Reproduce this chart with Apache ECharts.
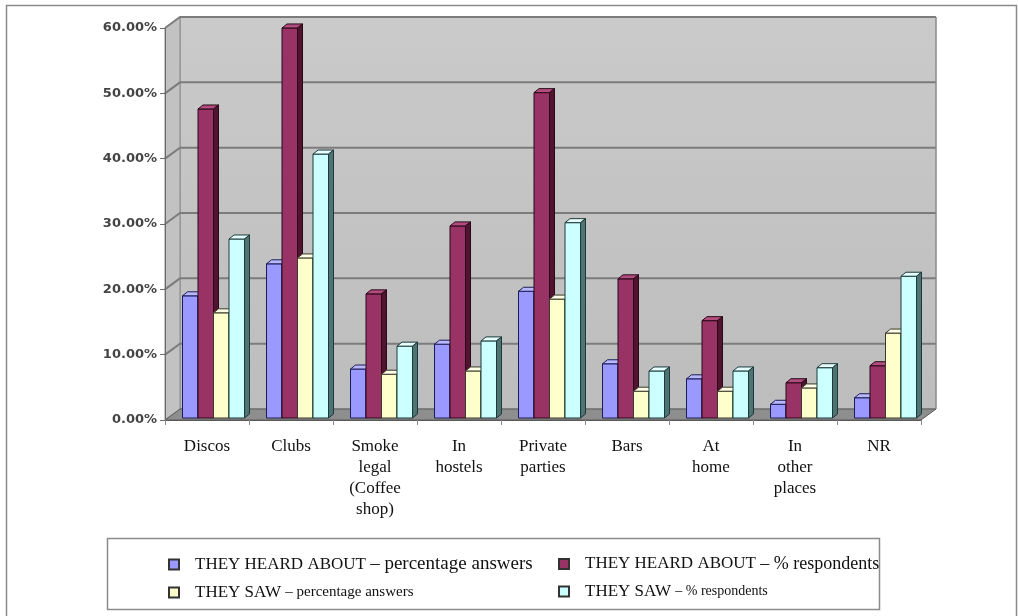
<!DOCTYPE html>
<html>
<head>
<meta charset="utf-8">
<script src="https://cdn.jsdelivr.net/npm/echarts@6/dist/echarts.min.js"></script>
<style>
html, body { margin: 0; padding: 0; background: #fff; }
#chart { width: 1018px; height: 616px; }
</style>
</head>
<body>
<div id="chart"></div>
<script>
// Places where respondents heard about / saw drug use (values in %)
const categories = ['Discos', 'Clubs', 'Smoke\nlegal\n(Coffee\nshop)', 'In\nhostels', 'Private\nparties', 'Bars', 'At\nhome', 'In\nother\nplaces', 'NR'];
const heardAnswers     = [18.7, 23.6, 7.5, 11.3, 19.4, 8.3, 6.0, 2.1, 3.1];
const heardRespondents = [47.3, 59.7, 19.0, 29.4, 49.8, 21.3, 14.9, 5.4, 8.0];
const sawAnswers       = [16.1, 24.5, 6.7, 7.2, 18.2, 4.1, 4.1, 4.6, 13.0];
const sawRespondents   = [27.4, 40.4, 11.0, 11.8, 29.9, 7.2, 7.2, 7.7, 21.7];
const seriesNames = [
  'THEY HEARD ABOUT – percentage answers',
  'THEY HEARD ABOUT – % respondents',
  'THEY SAW – percentage answers',
  'THEY SAW – % respondents'
];
const yTicks = [0, 10, 20, 30, 40, 50, 60];

const palettes = [
  { front: '#9999ff', top: '#b8b8ff', side: '#6666b8', line: '#1c1c55' },
  { front: '#993366', top: '#b34d80', side: '#4f1430', line: '#2a0816' },
  { front: '#ffffcc', top: '#ffffe8', side: '#b5b590', line: '#3a3a2a' },
  { front: '#ccffff', top: '#e8ffff', side: '#4f7373', line: '#1c3a3a' }
];
const seriesData = [heardAnswers, heardRespondents, sawAnswers, sawRespondents];

// depth of the chart box (walls) and of each column
const WALL_DX = 15, WALL_DY = 11;
const BAR_DX = 5, BAR_DY = 4;

function renderWalls(params, api) {
  const cs = params.coordSys;
  const L = cs.x, R = cs.x + cs.width, T = cs.y, B = cs.y + cs.height;
  const children = [];
  children.push({
    type: 'rect',
    shape: { x: L + WALL_DX, y: T - WALL_DY, width: cs.width, height: cs.height },
    style: {
      fill: new echarts.graphic.LinearGradient(0, 0, 0, 1, [
        { offset: 0, color: '#cacaca' }, { offset: 1, color: '#bdbdbd' }
      ]),
      stroke: '#8a8a8a', lineWidth: 1
    }
  });
  children.push({
    type: 'polygon',
    shape: { points: [[L, T], [L + WALL_DX, T - WALL_DY], [L + WALL_DX, B - WALL_DY], [L, B]] },
    style: { fill: '#c2c2c2', stroke: '#8a8a8a', lineWidth: 1 }
  });
  children.push({
    type: 'polygon',
    shape: { points: [[L, B], [L + WALL_DX, B - WALL_DY], [R + WALL_DX, B - WALL_DY], [R, B]] },
    style: { fill: '#8e8e8e', stroke: '#5a5a5a', lineWidth: 1 }
  });
  yTicks.forEach(function (t) {
    if (t === 0) return;
    const y = api.coord([0, t])[1];
    children.push({
      type: 'polyline',
      shape: { points: [[L, y], [L + WALL_DX, y - WALL_DY], [R + WALL_DX, y - WALL_DY]] },
      style: { stroke: '#7c7c7c', lineWidth: 2, fill: null }
    });
  });
  children.push({
    type: 'line',
    shape: { x1: R + WALL_DX, y1: T - WALL_DY, x2: R + WALL_DX, y2: B - WALL_DY },
    style: { stroke: '#8a8a8a', lineWidth: 1 }
  });
  return { type: 'group', children: children };
}

function barRenderer(k) {
  const p = palettes[k];
  return function (params, api) {
    const ci = api.value(0), v = api.value(1);
    const base = api.coord([ci, 0]);
    const top = api.coord([ci, v]);
    const bw = api.size([1, 0])[0];
    const w = bw * 15.5 / 84;
    const x0 = base[0] - bw * 24.5 / 84 + k * w;
    const yb = base[1] - 2, yt = top[1] - 2;
    return {
      type: 'group',
      children: [
        { type: 'rect', shape: { x: x0, y: yt, width: w, height: yb - yt },
          style: { fill: p.front, stroke: p.line, lineWidth: 1 } },
        { type: 'polygon', shape: { points: [[x0, yt], [x0 + BAR_DX, yt - BAR_DY], [x0 + w + BAR_DX, yt - BAR_DY], [x0 + w, yt]] },
          style: { fill: p.top, stroke: p.line, lineWidth: 1 } },
        { type: 'polygon', shape: { points: [[x0 + w, yt], [x0 + w + BAR_DX, yt - BAR_DY], [x0 + w + BAR_DX, yb - BAR_DY], [x0 + w, yb]] },
          style: { fill: p.side, stroke: p.line, lineWidth: 1 } }
      ]
    };
  };
}

const serif = 'Liberation Serif';
const legendRich = {
  caps: { fontFamily: serif, fontSize: 17, color: '#111', lineHeight: 20 },
  low19: { fontFamily: serif, fontSize: 19, color: '#111', lineHeight: 20 },
  low18: { fontFamily: serif, fontSize: 18, color: '#111', lineHeight: 20 },
  low15: { fontFamily: serif, fontSize: 15, color: '#111', lineHeight: 20 },
  low14: { fontFamily: serif, fontSize: 14, color: '#111', lineHeight: 20 }
};
const lowerStyle = ['low19', 'low18', 'low15', 'low14'];
function legendLabel(name) {
  const parts = name.split(' – ');
  const idx = seriesNames.indexOf(name);
  return '{caps|' + parts[0] + ' }{' + lowerStyle[idx] + '|– ' + parts[1] + '}';
}
function legendItems(indices) {
  return indices.map(function (i) {
    return { name: seriesNames[i], icon: 'rect',
      itemStyle: { color: palettes[i].front, borderColor: '#333', borderWidth: 2 } };
  });
}

const chart = echarts.init(document.getElementById('chart'), null, { renderer: 'canvas' });

const series = [{
  type: 'custom',
  name: 'walls',
  silent: true,
  z: 1,
  renderItem: renderWalls,
  data: [[0, 0]],
  encode: { x: 0, y: 1 }
}];
seriesData.forEach(function (arr, k) {
  series.push({
    type: 'custom',
    name: seriesNames[k],
    z: 2,
    itemStyle: { color: palettes[k].front },
    renderItem: barRenderer(k),
    encode: { x: 0, y: 1 },
    data: arr.map(function (v, i) { return [i, v]; })
  });
});

chart.setOption({
  animation: false,
  backgroundColor: '#fff',
  grid: { left: 165, right: 97, top: 28, bottom: 196 },
  xAxis: {
    type: 'category',
    data: categories,
    z: 3,
    axisLine: { show: true, lineStyle: { color: '#5a5a5a', width: 1 } },
    axisTick: { show: true, length: 5, lineStyle: { color: '#888' } },
    axisLabel: {
      interval: 0, margin: 16,
      fontFamily: serif, fontSize: 17, lineHeight: 21, color: '#111'
    },
    splitLine: { show: false }
  },
  yAxis: {
    type: 'value',
    min: 0, max: 60, interval: 10,
    z: 3,
    axisLine: { show: true, lineStyle: { color: '#6a6a6a', width: 1 } },
    axisTick: { show: true, length: 5, lineStyle: { color: '#6a6a6a' } },
    axisLabel: {
      margin: 8,
      fontFamily: 'DejaVu Sans', fontWeight: 'bold', fontSize: 13, color: '#444',
      formatter: function (v) { return v.toFixed(2) + '%'; }
    },
    splitLine: { show: false }
  },
  legend: [
    {
      orient: 'vertical', left: 163, top: 550, itemWidth: 10, itemHeight: 10, itemGap: 10,
      data: legendItems([0, 2]), selectedMode: false,
      formatter: legendLabel,
      textStyle: { rich: legendRich, padding: [0, 0, 0, 11] }
    },
    {
      orient: 'vertical', left: 553, top: 550, itemWidth: 10, itemHeight: 10, itemGap: 10,
      data: legendItems([1, 3]), selectedMode: false,
      formatter: legendLabel,
      textStyle: { rich: legendRich, padding: [0, 0, 0, 11] }
    }
  ],
  graphic: [
    { type: 'rect', z: -10, shape: { x: 6.5, y: 5.5, width: 1010, height: 640 },
      style: { fill: '#fff', stroke: '#8a8a8a', lineWidth: 1.5 } },
    { type: 'rect', z: -5, shape: { x: 107.5, y: 538.5, width: 772, height: 71 },
      style: { fill: '#fff', stroke: '#8c8c8c', lineWidth: 1.5 } }
  ],
  series: series
});
</script>
</body>
</html>
